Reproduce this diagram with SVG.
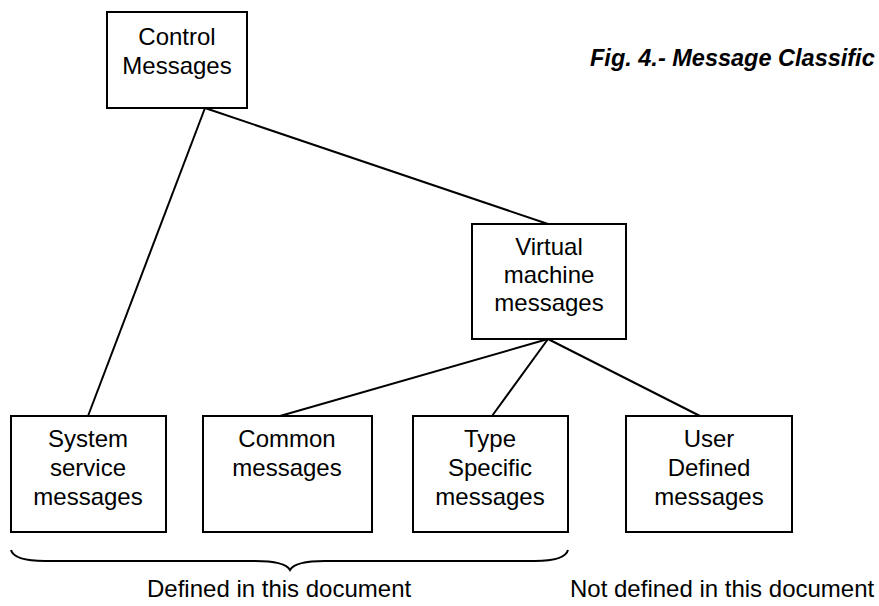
<svg xmlns="http://www.w3.org/2000/svg" width="879" height="606" viewBox="0 0 879 606">
<style>
.box{fill:#fff;stroke:#000;stroke-width:2}
.ln{stroke:#000;stroke-width:2;fill:none}
text{font-family:"Liberation Sans",Arial,sans-serif;font-size:24px;fill:#000;text-anchor:middle}
.title{font-weight:bold;font-style:italic;text-anchor:start;font-size:23.5px}
.st{text-anchor:start}
</style>
<rect width="879" height="606" fill="#fff"/>
<g id="connectors">
<line class="ln" x1="205" y1="108" x2="88" y2="416"/>
<line class="ln" x1="205" y1="108" x2="548" y2="224"/>
<line class="ln" x1="548" y1="339" x2="280" y2="416"/>
<line class="ln" x1="548" y1="339" x2="492" y2="416"/>
<line class="ln" x1="548" y1="339" x2="700" y2="416"/>
</g>
<g id="control">
<rect class="box" x="107" y="12" width="140" height="96"/>
<text x="177" y="45">Control</text>
<text x="177" y="74">Messages</text>
</g>
<g id="virtual">
<rect class="box" x="472" y="224" width="154" height="115"/>
<text x="549" y="255">Virtual</text>
<text x="549" y="283">machine</text>
<text x="549" y="311">messages</text>
</g>
<g id="system">
<rect class="box" x="11" y="416" width="155" height="116"/>
<text x="88" y="447">System</text>
<text x="88" y="476">service</text>
<text x="88" y="505">messages</text>
</g>
<g id="common">
<rect class="box" x="203" y="416" width="169" height="116"/>
<text x="287" y="447">Common</text>
<text x="287" y="476">messages</text>
</g>
<g id="type">
<rect class="box" x="413" y="416" width="155" height="116"/>
<text x="490" y="447">Type</text>
<text x="490" y="476">Specific</text>
<text x="490" y="505">messages</text>
</g>
<g id="user">
<rect class="box" x="626" y="416" width="166" height="116"/>
<text x="709" y="447">User</text>
<text x="709" y="476">Defined</text>
<text x="709" y="505">messages</text>
</g>
<g id="brace">
<path class="ln" d="M11,550 Q14,561 45,561 L255,561 Q285,561 290,570 Q295,561 325,561 L535,561 Q565,561 568,550"/>
</g>
<text class="st" x="147" y="597">Defined in this document</text>
<text class="st" x="570" y="597">Not defined in this document</text>
<text class="title" x="590" y="66">Fig. 4.- Message Classific</text>
</svg>
